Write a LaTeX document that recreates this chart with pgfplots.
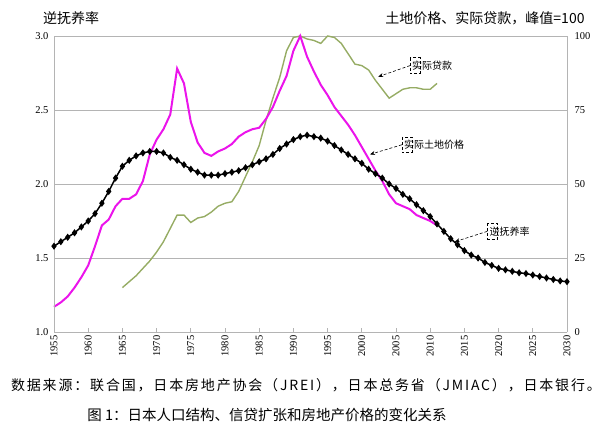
\documentclass[border=0pt]{standalone}
\usepackage{fontspec}
\setmainfont{Liberation Serif}
\newfontfamily\cjk{Noto Sans CJK SC}
\newfontfamily\cjksp[LetterSpace=13]{Noto Sans CJK SC}
\usepackage{pgfplots}
\usepackage{pgfplotstable}
\pgfplotsset{compat=1.18}
\usetikzlibrary{arrows.meta}

\definecolor{landc}{RGB}{235,20,235}
\definecolor{loanc}{RGB}{150,172,100}
\definecolor{axc}{RGB}{180,180,180}

% inverse dependency ratio (left axis)
\pgfplotstableread{
year dep
1955 1.58
1956 1.61
1957 1.64
1958 1.67
1959 1.71
1960 1.75
1961 1.80
1962 1.87
1963 1.95
1964 2.04
1965 2.12
1966 2.16
1967 2.19
1968 2.21
1969 2.22
1970 2.22
1971 2.21
1972 2.18
1973 2.16
1974 2.13
1975 2.10
1976 2.08
1977 2.06
1978 2.06
1979 2.06
1980 2.07
1981 2.08
1982 2.09
1983 2.11
1984 2.13
1985 2.15
1986 2.17
1987 2.20
1988 2.24
1989 2.27
1990 2.30
1991 2.32
1992 2.33
1993 2.32
1994 2.31
1995 2.29
1996 2.26
1997 2.23
1998 2.20
1999 2.17
2000 2.14
2001 2.10
2002 2.07
2003 2.04
2004 2.00
2005 1.97
2006 1.93
2007 1.90
2008 1.86
2009 1.82
2010 1.78
2011 1.73
2012 1.68
2013 1.63
2014 1.59
2015 1.55
2016 1.52
2017 1.50
2018 1.47
2019 1.45
2020 1.43
2021 1.42
2022 1.41
2023 1.40
2024 1.395
2025 1.385
2026 1.375
2027 1.365
2028 1.355
2029 1.345
2030 1.34
}\deptable

% real land price, peak=100 (right axis)
\pgfplotstableread{
year land
1955 8.5
1956 10
1957 12
1958 15
1959 18.5
1960 22.5
1961 29
1962 36
1963 38
1964 42.5
1965 45
1966 45
1967 46.5
1968 51
1969 60
1970 65
1971 68.5
1972 73.5
1973 89
1974 84
1975 71
1976 64
1977 60.5
1978 59.5
1979 61
1980 62
1981 63.5
1982 66
1983 67.5
1984 68.5
1985 69
1986 72
1987 76
1988 81.5
1989 86.5
1990 95
1991 100
1992 93
1993 88
1994 83.5
1995 80
1996 76
1997 73
1998 70
1999 66.5
2000 62.5
2001 58.5
2002 54.5
2003 51
2004 46.5
2005 43.5
2006 42.5
2007 41.5
2008 39.5
2009 38.5
2010 37.5
2011 36
}\landtable

% real loans, peak=100 (right axis)
\pgfplotstableread{
year loan
1965 15
1966 17
1967 19
1968 21.5
1969 24
1970 27
1971 30.5
1972 35
1973 39.5
1974 39.5
1975 37
1976 38.5
1977 39
1978 40.5
1979 42.5
1980 43.5
1981 44
1982 47.5
1983 52.5
1984 57.5
1985 63
1986 71.5
1987 79
1988 86
1989 95
1990 99.5
1991 100
1992 99
1993 98.5
1994 97.5
1995 100
1996 99.5
1997 97.5
1998 94
1999 90.5
2000 90
2001 88.5
2002 85
2003 82
2004 79
2005 80.5
2006 82
2007 82.5
2008 82.5
2009 82
2010 82
2011 84
}\loantable

\begin{document}
\begin{tikzpicture}[x=1pt,y=1pt]
\path[use as bounding box] (0,0) rectangle (613,437);

\pgfplotsset{
  every axis/.append style={
    at={(54pt,105pt)}, anchor=south west,
    scale only axis, width=513pt, height=296pt,
    xmin=1955, xmax=2030,
    /pgf/number format/assume math mode=true,
    tick label style={font=\fontsize{10.5}{12}\selectfont},
    axis line style={axc, line width=0.7pt},
  },
}

% right axis: land price and loans
\begin{axis}[
  ymin=0, ymax=100,
  ytick={0,25,50,75,100},
  axis x line*=bottom,
  axis y line*=right,
  ymajorgrids=true,
  grid style={axc, line width=0.7pt},
  xtick={1955,1960,...,2030},
  x tick label style={rotate=90, anchor=east, /pgf/number format/1000 sep={}},
  xticklabel style={/pgf/number format/1000 sep={}},
  major x tick style={axc, line width=0.7pt},
  major tick length=4pt,
  major y tick style={draw=none},
  yticklabel style={xshift=4pt},
  clip=false,
]
  \draw[axc, line width=0.7pt] (axis cs:1955,100) -- (axis cs:2030,100);
  \addplot[loanc, line width=1.4pt, mark=none] table[x=year, y=loan] {\loantable};
  \addplot[landc, line width=2pt, mark=none] table[x=year, y=land] {\landtable};
\end{axis}

% left axis: inverse dependency ratio
\begin{axis}[
  ymin=1, ymax=3,
  ytick={1,1.5,...,3},
  yticklabel style={/pgf/number format/fixed, /pgf/number format/fixed zerofill, /pgf/number format/precision=1, xshift=-2pt},
  axis y line*=left,
  hide x axis,
  major y tick style={draw=none},
  clip=false,
]
  \addplot[black, line width=1.5pt, mark=diamond*, mark size=2.4pt,
    mark options={solid, fill=black}] table[x=year, y=dep] {\deptable};

  % annotations
  \node[anchor=west, inner sep=1pt, font=\cjk\fontsize{10}{12}\selectfont] (tl) at (axis cs:2007.2,2.80) {实际贷款};
  \draw[densely dashed, line width=0.5pt] ([xshift=-1pt, yshift=2pt]tl.north west) rectangle ([xshift=9pt, yshift=-2pt]tl.south west);
  \draw[densely dashed, line width=0.6pt, -{Stealth[length=5pt, width=4pt]}] ([xshift=-1pt]tl.west) -- (axis cs:2002.4,2.725);

  \node[anchor=west, inner sep=1pt, font=\cjk\fontsize{10}{12}\selectfont] (ll) at (axis cs:2006.0,2.265) {实际土地价格};
  \draw[densely dashed, line width=0.5pt] ([xshift=-1pt, yshift=2pt]ll.north west) rectangle ([xshift=9pt, yshift=-2pt]ll.south west);
  \draw[densely dashed, line width=0.6pt, -{Stealth[length=5pt, width=4pt]}] ([xshift=-1pt]ll.west) -- (axis cs:2001.2,2.20);

  \node[anchor=west, inner sep=1pt, font=\cjk\fontsize{10}{12}\selectfont] (dl) at (axis cs:2018.5,1.68) {逆抚养率};
  \draw[densely dashed, line width=0.5pt] ([xshift=-1pt, yshift=2pt]dl.north west) rectangle ([xshift=9pt, yshift=-2pt]dl.south west);
  \draw[densely dashed, line width=0.6pt, -{Stealth[length=5pt, width=4pt]}] ([xshift=-1pt]dl.west) -- (axis cs:2013.6,1.61);
\end{axis}

% titles and captions
\node[font=\cjk\fontsize{14}{16}\selectfont] at (71,419) {逆抚养率};
\node[font=\cjk\fontsize{14}{16}\selectfont] at (485,419) {土地价格、实际贷款，峰值=100};
\node[font=\cjksp\fontsize{14}{16}\selectfont] at (306,52) {数据来源：联合国，日本房地产协会（JREI），日本总务省（JMIAC），日本银行。};
\node[font=\cjk\fontsize{14.5}{17}\selectfont] at (267,22) {图 1：日本人口结构、信贷扩张和房地产价格的变化关系};
\end{tikzpicture}
\end{document}
